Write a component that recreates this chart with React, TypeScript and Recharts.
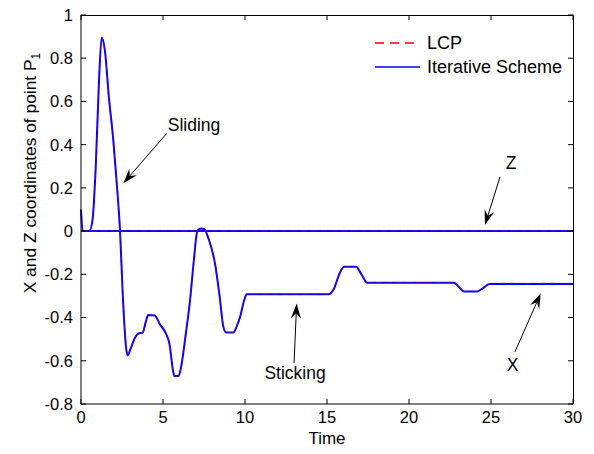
import React from 'react';
import {
  LineChart, Line, XAxis, YAxis, ReferenceLine, ReferenceDot,
} from 'recharts';

// time samples for the X coordinate trace
const times = [
  0, 0.1, 0.5, 0.7, 0.9, 1.1, 1.26, 1.45, 1.7, 1.97, 2.15, 2.38, 2.55, 2.75, 2.85, 3.0,
  3.25, 3.5, 3.76, 3.95, 4.1, 4.5, 4.8, 5.18, 5.39, 5.6, 5.69, 5.95, 6.1, 6.4, 6.65,
  6.9, 7.09, 7.3, 7.5, 7.8, 8.17, 8.45, 8.68, 8.85, 9.29, 9.5, 9.7, 9.95, 10.1, 15.1,
  15.4, 15.8, 16.04, 16.77, 17.1, 17.46, 22.74, 23.0, 23.35, 24.16, 24.5, 24.9, 30,
];

const xIterative = [
  0.1, 0, 0, 0.05, 0.3, 0.7, 0.895, 0.84, 0.62, 0.42, 0.25, 0, -0.3, -0.54, -0.575, -0.55,
  -0.5, -0.474, -0.47, -0.42, -0.388, -0.39, -0.43, -0.474, -0.52, -0.64, -0.671, -0.671, -0.63, -0.47, -0.32,
  -0.12, 0, 0.012, 0.01, -0.04, -0.15, -0.3, -0.443, -0.469, -0.469, -0.44, -0.397, -0.32, -0.292, -0.292,
  -0.27, -0.19, -0.165, -0.165, -0.2, -0.239, -0.239, -0.255, -0.279, -0.279, -0.265, -0.245, -0.245,
];

const xLcp = [
  0.1, 0, 0, 0.05, 0.3, 0.7, 0.895, 0.84, 0.62, 0.42, 0.25, 0, -0.3, -0.54, -0.575, -0.55,
  -0.5, -0.474, -0.47, -0.42, -0.388, -0.39, -0.43, -0.474, -0.52, -0.64, -0.671, -0.671, -0.63, -0.47, -0.32,
  -0.12, 0, 0.012, 0.01, -0.04, -0.15, -0.3, -0.443, -0.469, -0.469, -0.44, -0.397, -0.32, -0.292, -0.292,
  -0.27, -0.19, -0.165, -0.165, -0.2, -0.239, -0.239, -0.255, -0.279, -0.279, -0.265, -0.241, -0.241,
];

// Z coordinate stays on zero
const zTimes = [0, 30];
const zValues = [0, 0];

const xTicks = [0, 5, 10, 15, 20, 25, 30];
const yTicks = [-0.8, -0.6, -0.4, -0.2, 0, 0.2, 0.4, 0.6, 0.8, 1];
const xDomain = [0, 30];
const yDomain = [-0.8, 1];

const notes = [
  { text: 'Sliding', lx: 6.89, ly: 0.49, from: [5.23, 0.452], to: [2.58, 0.221] },
  { text: 'Z', lx: 26.22, ly: 0.315, from: [25.55, 0.251], to: [24.63, 0.028] },
  { text: 'X', lx: 26.31, ly: -0.618, from: [26.46, -0.559], to: [28.03, -0.288] },
  { text: 'Sticking', lx: 13.05, ly: -0.657, from: [12.99, -0.611], to: [13.15, -0.335] },
];

const xData = times.map((t, i) => ({ t, iter: xIterative[i], lcp: xLcp[i] }));
const zData = zTimes.map((t, i) => ({ t, iter: zValues[i], lcp: zValues[i] }));

const FONT = '"Liberation Sans", Arial, Helvetica, sans-serif';
const BLUE = '#0000ff';
const RED = '#ff0000';

const W = 594;
const H = 454;
const M = { top: 15, right: 21, bottom: 0, left: 0 };
const Y_AXIS_W = 81;
const X_AXIS_H = 50;
const PLOT = {
  left: M.left + Y_AXIS_W,
  right: W - M.right,
  top: M.top,
  bottom: H - M.bottom - X_AXIS_H,
};

// eslint-disable-next-line @typescript-eslint/no-explicit-any
function Arrow(props: any) {
  const { x1, y1, x2, y2 } = props;
  if ([x1, y1, x2, y2].some((v) => v === undefined || Number.isNaN(v))) return null;
  const dx = x2 - x1;
  const dy = y2 - y1;
  const len = Math.hypot(dx, dy) || 1;
  const ux = dx / len;
  const uy = dy / len;
  const nx = -uy;
  const ny = ux;
  const L = 15;
  const hw = 5;
  const bx = x2 - L * ux;
  const by = y2 - L * uy;
  const kx = x2 - 0.65 * L * ux;
  const ky = y2 - 0.65 * L * uy;
  return (
    <g>
      <line x1={x1} y1={y1} x2={kx} y2={ky} stroke="#000" strokeWidth={1} />
      <polygon
        points={`${x2},${y2} ${bx + hw * nx},${by + hw * ny} ${kx},${ky} ${bx - hw * nx},${by - hw * ny}`}
        fill="#000"
      />
    </g>
  );
}

// eslint-disable-next-line @typescript-eslint/no-explicit-any
function YLabel({ viewBox }: any) {
  const cx = viewBox.x + 36;
  const cy = viewBox.y + 158;
  return (
    <text
      x={cx}
      y={cy}
      transform={`rotate(-90 ${cx} ${cy})`}
      textAnchor="middle"
      fontSize={17.4}
      fontFamily={FONT}
      fill="#000"
    >
      X and Z coordinates of point P<tspan dy={4} fontSize={12}>1</tspan>
    </text>
  );
}

// top and right edges of the axes box, with inward ticks
function BoxOverlay() {
  const sx = (t: number) => PLOT.left + ((t - xDomain[0]) / (xDomain[1] - xDomain[0])) * (PLOT.right - PLOT.left);
  const sy = (v: number) => PLOT.top + ((yDomain[1] - v) / (yDomain[1] - yDomain[0])) * (PLOT.bottom - PLOT.top);
  return (
    <svg width={W} height={H} style={{ position: 'absolute', left: 0, top: 0, pointerEvents: 'none' }}>
      <line x1={PLOT.left} y1={PLOT.top + 0.5} x2={PLOT.right + 0.5} y2={PLOT.top + 0.5} stroke="#000" />
      <line x1={PLOT.right + 0.5} y1={PLOT.top} x2={PLOT.right + 0.5} y2={PLOT.bottom} stroke="#000" />
      {xTicks.map((t) => (
        <line key={`tt-${t}`} x1={sx(t)} y1={PLOT.top} x2={sx(t)} y2={PLOT.top + 5} stroke="#000" />
      ))}
      {yTicks.map((v) => (
        <line key={`rt-${v}`} x1={PLOT.right} y1={sy(v)} x2={PLOT.right - 5} y2={sy(v)} stroke="#000" />
      ))}
    </svg>
  );
}

export default function App() {
  return (
    <div style={{ position: 'absolute', left: 0, top: 0, width: W, height: H, background: '#fff', fontFamily: FONT }}>
      <LineChart width={W} height={H} margin={M}>
        <XAxis
          dataKey="t"
          type="number"
          domain={xDomain}
          ticks={xTicks}
          stroke="#000"
          tickSize={-5}
          tickMargin={12}
          height={X_AXIS_H}
          tick={{ fill: '#000', fontSize: 16.5, fontFamily: FONT }}
          label={{ value: 'Time', position: 'insideBottom', offset: 10, fill: '#000', fontSize: 17, fontFamily: FONT }}
        />
        <YAxis
          type="number"
          domain={yDomain}
          ticks={yTicks}
          stroke="#000"
          tickSize={-5}
          tickMargin={13}
          width={Y_AXIS_W}
          tick={{ fill: '#000', fontSize: 16.5, fontFamily: FONT }}
          label={{ content: <YLabel /> }}
        />

        <Line data={zData} dataKey="iter" type="linear" stroke={BLUE} strokeWidth={2} dot={false} isAnimationActive={false} />
        <Line data={xData} dataKey="iter" type="monotone" stroke={BLUE} strokeWidth={2} dot={false} isAnimationActive={false} />
        <Line data={zData} dataKey="lcp" type="linear" stroke={RED} strokeOpacity={0.4} strokeWidth={1} strokeDasharray="6 4" dot={false} isAnimationActive={false} />
        <Line data={xData} dataKey="lcp" type="monotone" stroke={RED} strokeOpacity={0.4} strokeWidth={1} strokeDasharray="6 4" dot={false} isAnimationActive={false} />

        {notes.map((n) => (
          <ReferenceLine
            key={`arrow-${n.text}`}
            segment={[{ x: n.from[0], y: n.from[1] }, { x: n.to[0], y: n.to[1] }]}
            ifOverflow="visible"
            shape={Arrow}
          />
        ))}
        {notes.map((n) => (
          <ReferenceDot
            key={`label-${n.text}`}
            x={n.lx}
            y={n.ly}
            r={0}
            fill="none"
            stroke="none"
            ifOverflow="visible"
            label={{ value: n.text, position: 'center', fill: '#000', fontSize: 17.5, fontFamily: FONT }}
          />
        ))}
      </LineChart>

      <BoxOverlay />

      <div style={{ position: 'absolute', left: 375, top: 31, fontSize: 18, color: '#000' }}>
        <div style={{ display: 'flex', alignItems: 'center', height: 24 }}>
          <svg width={45} height={4} style={{ marginRight: 7 }}>
            <line x1={0} y1={2} x2={45} y2={2} stroke={RED} strokeWidth={1.5} strokeDasharray="9 6" />
          </svg>
          <span style={{ lineHeight: '24px' }}>LCP</span>
        </div>
        <div style={{ display: 'flex', alignItems: 'center', height: 24 }}>
          <svg width={45} height={4} style={{ marginRight: 7 }}>
            <line x1={0} y1={2} x2={45} y2={2} stroke={BLUE} strokeWidth={1.5} />
          </svg>
          <span style={{ lineHeight: '24px' }}>Iterative Scheme</span>
        </div>
      </div>
    </div>
  );
}
